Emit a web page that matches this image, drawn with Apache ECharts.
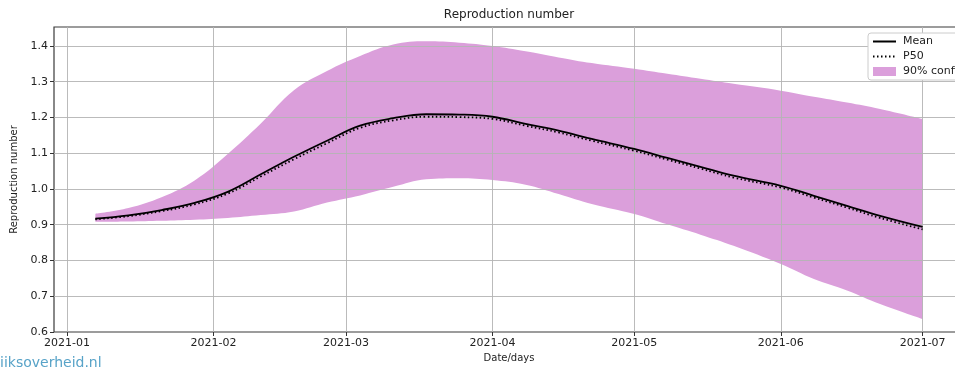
<!DOCTYPE html>
<html><head><meta charset="utf-8">
<script src="https://cdn.jsdelivr.net/npm/echarts@6/dist/echarts.min.js"></script>
<style>html,body{margin:0;padding:0;background:#fff;overflow:hidden}#c{width:975px;height:367px}</style>
</head><body><div id="c"></div>
<script>
const dates = ['2021-01-07','2021-01-14','2021-01-21','2021-01-28','2021-02-04','2021-02-11','2021-02-18','2021-02-25','2021-03-04','2021-03-11','2021-03-18','2021-03-25','2021-04-01','2021-04-08','2021-04-15','2021-04-22','2021-05-01','2021-05-08','2021-05-15','2021-05-22','2021-06-01','2021-06-08','2021-06-15','2021-06-22','2021-07-01'];
const upper = [0.931,0.947,0.977,1.024,1.098,1.183,1.276,1.330,1.372,1.404,1.413,1.409,1.400,1.385,1.368,1.352,1.336,1.322,1.308,1.294,1.275,1.258,1.242,1.224,1.196];
const lower = [0.908,0.909,0.911,0.914,0.919,0.927,0.937,0.962,0.982,1.006,1.027,1.030,1.025,1.012,0.986,0.958,0.930,0.901,0.872,0.841,0.790,0.748,0.716,0.678,0.636];
const meanVals = [0.917,0.926,0.941,0.961,0.992,1.041,1.090,1.135,1.177,1.198,1.209,1.208,1.202,1.182,1.163,1.140,1.112,1.087,1.062,1.037,1.009,0.981,0.953,0.925,0.894];
const p50Vals = [0.915,0.924,0.938,0.957,0.987,1.035,1.083,1.128,1.171,1.192,1.202,1.201,1.196,1.177,1.158,1.135,1.107,1.082,1.057,1.032,1.004,0.976,0.948,0.919,0.887];
const monthTicks = ['2021-01-01','2021-02-01','2021-03-01','2021-04-01','2021-05-01','2021-06-01','2021-07-01'];
const yTicks = [0.6,0.7,0.8,0.9,1.0,1.1,1.2,1.3,1.4];

const FONT = 'DejaVu Sans';
const BAND = '#db9fdb';
const GRIDC = '#b4b4b4';
const pairs = arr => dates.map((d,i)=>[d,arr[i]]);
const widths = dates.map((d,i)=>[d, +(upper[i]-lower[i]).toFixed(4)]);
const SM = {smooth:0.4, symbol:'none'};
const gridLines = monthTicks.map(m=>({xAxis:m})).concat(yTicks.slice(1).map(v=>({yAxis:v})));

const chart = echarts.init(document.getElementById('c'), null, {renderer:'canvas'});
chart.setOption({
  animation:false,
  backgroundColor:'#fff',
  textStyle:{fontFamily:FONT},
  grid:{left:54, top:27, right:11, bottom:35, show:true, borderColor:'#3a3a3a', borderWidth:1.2, containLabel:false, outerBoundsMode:'none'},
  graphic:[
    {type:'text', x:509, y:15, style:{text:'Reproduction number', font:'12px "DejaVu Sans"', fill:'#222', align:'center', verticalAlign:'middle'}},
    {type:'text', x:0, y:356, style:{text:'ijksoverheid.nl', font:'14px "DejaVu Sans"', fill:'#58a3c8', align:'left', verticalAlign:'top'}}
  ],
  legend:{
    orient:'vertical', left:868, top:33, padding:[3,6,3,4], itemGap:4, itemWidth:23, itemHeight:9, z:10,
    backgroundColor:'#fff', borderColor:'#cccccc', borderWidth:1, borderRadius:3,
    textStyle:{fontFamily:FONT, fontSize:11, color:'#222', padding:[0,0,0,2]},
    data:[
      {name:'Mean', itemStyle:{color:'rgba(0,0,0,0)', borderWidth:0}},
      {name:'P50', itemStyle:{color:'rgba(0,0,0,0)', borderWidth:0}},
      {name:'90% confidence', icon:'rect'}
    ]
  },
  xAxis:{
    type:'time', min:'2020-12-29 06:00', max:'2021-07-09 18:00',
    minInterval:28*86400000, maxInterval:31*86400000,
    name:'Date/days', nameLocation:'middle', nameGap:20,
    nameTextStyle:{fontFamily:FONT, fontSize:10, color:'#222'},
    axisLine:{show:false},
    axisTick:{show:true, length:4, lineStyle:{color:'#333'}},
    axisLabel:{fontFamily:FONT, fontSize:11, color:'#222', margin:6, showMinLabel:false, showMaxLabel:false,
      formatter:v=>{const d=new Date(v);return d.getFullYear()+'-'+String(d.getMonth()+1).padStart(2,'0');}},
    splitLine:{show:false}
  },
  yAxis:{
    type:'value', min:0.6, max:1.453, interval:0.1,
    name:'Reproduction number', nameLocation:'middle', nameGap:29,
    nameTextStyle:{fontFamily:FONT, fontSize:10, color:'#222'},
    axisLine:{show:false},
    axisTick:{show:true, length:4, lineStyle:{color:'#333'}},
    axisLabel:{fontFamily:FONT, fontSize:11, color:'#222', margin:6, showMaxLabel:false,
      formatter:v=>yTicks.some(t=>Math.abs(t-v)<1e-6)?v.toFixed(1):''},
    splitLine:{show:false}
  },
  series:[
    Object.assign({name:'_lower', type:'line', data:pairs(lower), stack:'band', lineStyle:{opacity:0}, silent:true, z:1}, SM),
    Object.assign({name:'90% confidence', type:'line', data:widths, stack:'band', color:BAND, itemStyle:{color:BAND}, lineStyle:{opacity:0, width:0}, areaStyle:{color:BAND, opacity:1}, silent:true, z:1}, SM),
    {name:'_grid', type:'line', data:[], silent:true, z:2,
      markLine:{silent:true, z:2, symbol:'none', animation:false, label:{show:false},
        lineStyle:{color:GRIDC, width:1, type:'solid', opacity:0.9}, emphasis:{disabled:true}, data:gridLines}},
    Object.assign({name:'Mean', type:'line', data:pairs(meanVals), color:'#000', lineStyle:{color:'#000', width:1.8}, z:3}, SM),
    Object.assign({name:'P50', type:'line', data:pairs(p50Vals), color:'#000', lineStyle:{color:'#000', width:1.8, type:[1.5,2.5]}, z:4}, SM)
  ]
});
</script></body></html>
